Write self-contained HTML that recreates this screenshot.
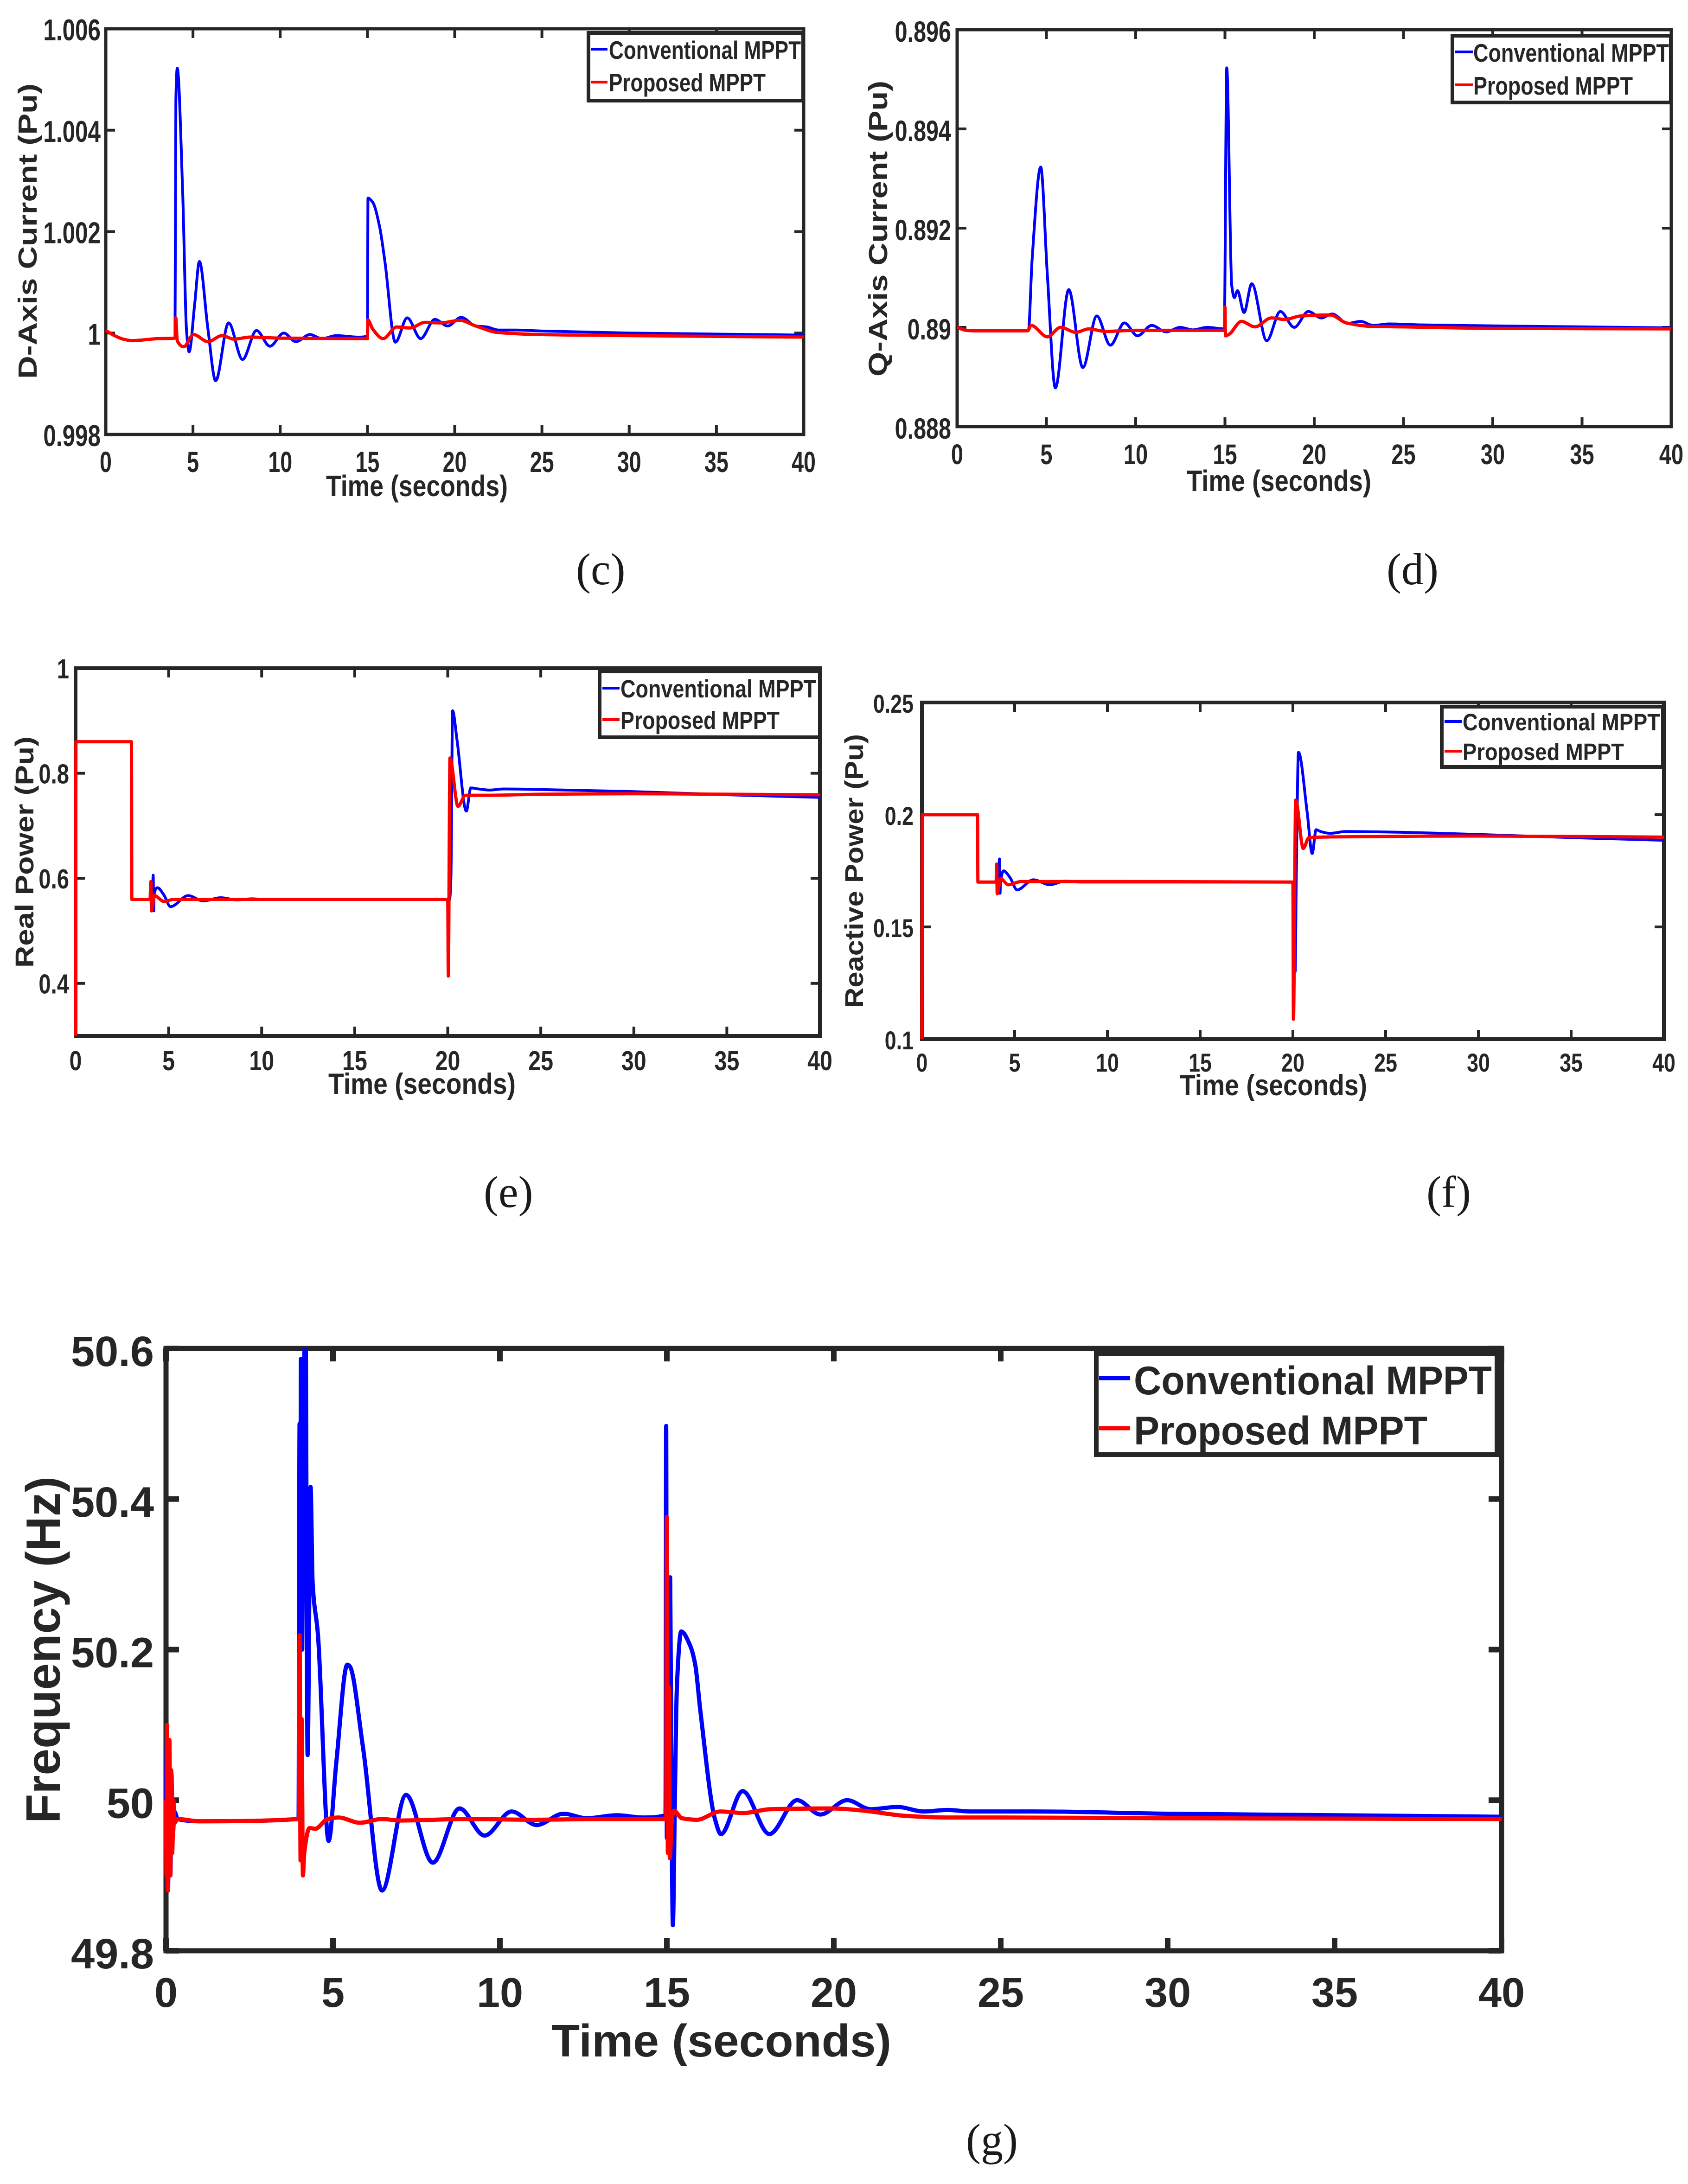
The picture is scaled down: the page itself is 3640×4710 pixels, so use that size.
<!DOCTYPE html>
<html lang="en">
<head>
<meta charset="utf-8">
<title>MPPT comparison charts</title>
<style>
html,body{margin:0;padding:0;background:#fff;}
svg{display:block;}
text{font-family:"Liberation Sans",sans-serif;font-weight:bold;fill:#262626;}
.cap{font-family:"Liberation Serif",serif;font-weight:normal;fill:#1a1a1a;font-size:96px;}
</style>
</head>
<body>
<svg id="figure" xmlns="http://www.w3.org/2000/svg" width="3640" height="4710" viewBox="0 0 3640 4710">
<rect width="3640" height="4710" fill="#fff"/>

<g id="panel-c">
  <g class="plot"></g>
  <text transform="translate(79,817) rotate(-90)" font-size="57" textLength="637" lengthAdjust="spacingAndGlyphs">D-Axis Current (Pu)</text>
  <text x="703" y="1070" font-size="64" textLength="392" lengthAdjust="spacingAndGlyphs">Time (seconds)</text>
  <g>
    <rect x="1269" y="71" width="463" height="146" fill="#fff" stroke="#262626" stroke-width="8"/>
    <line x1="1274" x2="1310" y1="106" y2="106" stroke="#0000ff" stroke-width="6"/>
    <line x1="1274" x2="1310" y1="177" y2="177" stroke="#ff0000" stroke-width="6"/>
    <text x="1313" y="127" font-size="55" textLength="414" lengthAdjust="spacingAndGlyphs">Conventional MPPT</text>
    <text x="1313" y="197" font-size="55" textLength="338" lengthAdjust="spacingAndGlyphs">Proposed MPPT</text>
  </g>
  <text class="cap" x="1242" y="1260">(c)</text>
</g>

<g id="panel-d">
  <g class="plot"></g>
  <text transform="translate(1913,812) rotate(-90)" font-size="57" textLength="638" lengthAdjust="spacingAndGlyphs">Q-Axis Current (Pu)</text>
  <text x="2559" y="1059" font-size="64" textLength="398" lengthAdjust="spacingAndGlyphs">Time (seconds)</text>
  <g>
    <rect x="3132" y="77" width="471" height="144" fill="#fff" stroke="#262626" stroke-width="8"/>
    <line x1="3138" x2="3176" y1="112" y2="112" stroke="#0000ff" stroke-width="6"/>
    <line x1="3138" x2="3176" y1="183" y2="183" stroke="#ff0000" stroke-width="6"/>
    <text x="3177" y="133" font-size="55" textLength="422" lengthAdjust="spacingAndGlyphs">Conventional MPPT</text>
    <text x="3177" y="204" font-size="55" textLength="344" lengthAdjust="spacingAndGlyphs">Proposed MPPT</text>
  </g>
  <text class="cap" x="2990" y="1260">(d)</text>
</g>

<g id="panel-e">
  <g class="plot"></g>
  <text transform="translate(72,2087) rotate(-90)" font-size="56" textLength="499" lengthAdjust="spacingAndGlyphs">Real Power (Pu)</text>
  <text x="708" y="2359" font-size="63" textLength="404" lengthAdjust="spacingAndGlyphs">Time (seconds)</text>
  <g>
    <rect x="1293" y="1448" width="475" height="142" fill="#fff" stroke="#262626" stroke-width="8"/>
    <line x1="1299" x2="1336" y1="1484" y2="1484" stroke="#0000ff" stroke-width="6"/>
    <line x1="1299" x2="1336" y1="1552" y2="1552" stroke="#ff0000" stroke-width="6"/>
    <text x="1338" y="1504" font-size="54" textLength="422" lengthAdjust="spacingAndGlyphs">Conventional MPPT</text>
    <text x="1338" y="1572" font-size="54" textLength="343" lengthAdjust="spacingAndGlyphs">Proposed MPPT</text>
  </g>
  <text class="cap" x="1043" y="2603">(e)</text>
</g>

<g id="panel-f">
  <g class="plot"></g>
  <text transform="translate(1861,2174) rotate(-90)" font-size="56" textLength="591" lengthAdjust="spacingAndGlyphs">Reactive Power (Pu)</text>
  <text x="2544" y="2362" font-size="63" textLength="404" lengthAdjust="spacingAndGlyphs">Time (seconds)</text>
  <g>
    <rect x="3109" y="1524" width="477" height="130" fill="#fff" stroke="#262626" stroke-width="8"/>
    <line x1="3115" x2="3153" y1="1556" y2="1556" stroke="#0000ff" stroke-width="6"/>
    <line x1="3115" x2="3153" y1="1620" y2="1620" stroke="#ff0000" stroke-width="6"/>
    <text x="3154" y="1575" font-size="51" textLength="426" lengthAdjust="spacingAndGlyphs">Conventional MPPT</text>
    <text x="3154" y="1639" font-size="51" textLength="348" lengthAdjust="spacingAndGlyphs">Proposed MPPT</text>
  </g>
  <text class="cap" x="3076" y="2603">(f)</text>
</g>

<g id="panel-g">
  <g class="plot"></g>
  <text transform="translate(129,3932) rotate(-90)" font-size="104" textLength="748" lengthAdjust="spacingAndGlyphs">Frequency (Hz)</text>
  <text x="1189" y="4435" font-size="98" textLength="733" lengthAdjust="spacingAndGlyphs">Time (seconds)</text>
  <g>
    <rect x="2364" y="2919" width="864" height="218" fill="#fff" stroke="#262626" stroke-width="10"/>
    <line x1="2370" x2="2437" y1="2972" y2="2972" stroke="#0000ff" stroke-width="9"/>
    <line x1="2370" x2="2437" y1="3080" y2="3080" stroke="#ff0000" stroke-width="9"/>
    <text x="2445" y="3007" font-size="86" textLength="772" lengthAdjust="spacingAndGlyphs">Conventional MPPT</text>
    <text x="2445" y="3115" font-size="86" textLength="633" lengthAdjust="spacingAndGlyphs">Proposed MPPT</text>
  </g>
  <text class="cap" x="2083" y="4647">(g)</text>
</g>
</svg>

<script>
// Shared x-axis ticks
const timeTicks = [0,5,10,15,20,25,30,35,40];

// (c) D-axis current
const cYTicks = [0.998,1,1.002,1.004,1.006];
const cYLabels = ["0.998","1","1.002","1.004","1.006"];
const cConvT = [0,0.5,1,1.5,3,3.97,4.02,4.1,4.41,4.63,4.78,5.1,5.37,5.85,6.3,7.04,7.84,8.64,9.41,10.2,10.9,11.7,12.4,13.2,14.5,15,15.03,15.3,15.7,16,16.6,17.28,18.05,18.86,19.6,20.37,21.2,21.85,22.5,23.5,25,30,35,40];
const cConvV = [1.00005,0.99995,0.99988,0.99985,0.99989,0.9999,1.0046,1.00522,1.00277,1.00005,0.99963,1.00058,1.00141,1.0001,0.99906,1.0002,0.99948,1.00005,0.99974,1,0.99983,0.99997,0.99989,0.99995,0.99992,0.99994,1.00266,1.00258,1.00209,1.00141,0.99982,1.0003,0.99989,1.00027,1.00014,1.00031,1.00014,1.00012,1.00006,1.00006,1.00004,1,0.99998,0.99996];
const cPropT = [0,0.5,1,1.5,3,3.98,4.01,4.1,4.47,5.03,5.86,6.67,7.35,8.27,10,15,15.02,15.3,15.9,16.67,17.44,18.3,19.2,20.3,21.2,22.5,25,30,40];
const cPropV = [1.00005,0.99995,0.99988,0.99985,0.99989,0.9999,1.0003,0.99985,0.99973,0.99997,0.99983,0.99995,0.99988,0.99992,0.9999,0.99989,1.00026,1.00008,0.99989,1.00012,1.0001,1.00021,1.0002,1.00025,1.00014,1.00001,0.99997,0.99995,0.99992];

// (d) Q-axis current
const dYTicks = [0.888,0.89,0.892,0.894,0.896];
const dYLabels = ["0.888","0.89","0.892","0.894","0.896"];
const dConvT = [0,0.5,1,3,3.99,4.2,4.68,5.05,5.5,6.25,7.04,7.82,8.58,9.37,10.1,10.9,11.7,12.5,13.2,14,14.96,15.1,15.38,15.53,15.7,16.07,16.5,17.34,18.1,18.88,19.67,20.4,21,21.87,22.6,23.3,24.2,26,30,35,40];
const dConvV = [0.89,0.88994,0.88993,0.88994,0.88994,0.89138,0.89323,0.89107,0.88878,0.89076,0.88919,0.89023,0.88964,0.89009,0.88983,0.89004,0.88991,0.89,0.88995,0.89,0.88997,0.89523,0.89084,0.8906,0.89074,0.8903,0.89088,0.88973,0.89032,0.89,0.89032,0.89019,0.89027,0.89008,0.89012,0.89004,0.89007,0.89005,0.89003,0.89001,0.88999];
const dPropT = [0,0.5,1,3,3.95,4.14,5.05,5.8,6.65,7.37,8.28,10,14.97,15,15.03,15.23,15.92,16.68,17.6,18.34,19.25,20.9,21.8,23.2,25,30,40];
const dPropV = [0.89,0.88994,0.88993,0.88993,0.88993,0.89004,0.88981,0.89,0.8899,0.88997,0.88992,0.88994,0.88994,0.89041,0.88983,0.88986,0.89012,0.89001,0.89019,0.89016,0.89023,0.89025,0.89009,0.89002,0.89001,0.88998,0.88997];

// (e) Real power
const eYTicks = [0.4,0.6,0.8,1];
const eYLabels = ["0.4","0.6","0.8","1"];
const eConvT = [0,0.02,3,3.02,4.12,4.17,4.2,4.22,4.4,4.75,5.1,6.05,6.86,7.8,8.65,9.5,10,20,20.1,20.17,20.26,20.5,21,21.24,21.67,22.25,23,25,30,35,40];
const eConvV = [0.3,0.86,0.86,0.56,0.56,0.606,0.538,0.57,0.582,0.568,0.546,0.567,0.557,0.563,0.559,0.561,0.56,0.56,0.56,0.6,0.919,0.863,0.728,0.772,0.77,0.768,0.77,0.769,0.765,0.759,0.754];
const ePropT = [0,0.02,3,3.02,4,4.05,4.08,4.23,4.75,5.3,20,20.03,20.12,20.55,20.95,22,25,30,35,40];
const ePropV = [0.3,0.86,0.86,0.56,0.56,0.594,0.538,0.567,0.556,0.56,0.56,0.414,0.829,0.737,0.758,0.758,0.76,0.761,0.76,0.759];

// (f) Reactive power
const fYTicks = [0.1,0.15,0.2,0.25];
const fYLabels = ["0.1","0.15","0.2","0.25"];
const fConvT = [0,0.02,3,3.02,4.12,4.18,4.21,4.24,4.4,4.75,5.13,6,6.9,7.7,8.5,20,20.12,20.18,20.3,20.77,21.04,21.25,21.5,22,22.85,25,30,35,40];
const fConvV = [0.1,0.2,0.2,0.17,0.17,0.1803,0.165,0.17,0.175,0.172,0.1665,0.171,0.1688,0.1704,0.17,0.17,0.13,0.17,0.2278,0.201,0.1827,0.1933,0.1925,0.1917,0.1925,0.1923,0.1912,0.1898,0.1886];
const fPropT = [0,0.02,3,3.02,4,4.03,4.06,4.24,4.66,5.34,20,20.03,20.15,20.56,20.86,22,30,40];
const fPropV = [0.1,0.2,0.2,0.17,0.17,0.178,0.1648,0.1715,0.1688,0.1702,0.17,0.1089,0.2065,0.185,0.1898,0.1901,0.1905,0.19];

// (g) Frequency
const gYTicks = [49.8,50,50.2,50.4,50.6];
const gYLabels = ["49.8","50","50.2","50.4","50.6"];
const gConvT = [0,0.03,0.06,0.1,0.13,0.17,0.2,0.25,0.35,1,3.97,4,4.02,4.04,4.08,4.14,4.18,4.24,4.33,4.39,4.55,4.87,5.1,5.43,5.5,5.9,6.47,7.19,7.99,8.79,9.54,10.35,11.1,11.9,12.6,13.5,14.3,14.96,14.98,15,15.04,15.1,15.14,15.18,15.24,15.3,15.43,15.7,15.85,16,16.44,16.62,17.27,18.07,18.9,19.6,20.4,21.1,21.9,22.7,23.4,24.1,26,30,35,40];
const gConvV = [50,50.1,49.88,50.08,49.9,50.02,49.95,49.985,49.975,49.972,49.975,50.5,50.2,50.586,50.2,50.59,50.62,50.06,50.416,50.29,50.22,49.946,50.05,50.18,50.178,50.07,49.88,50.007,49.917,49.989,49.953,49.985,49.967,49.982,49.976,49.98,49.977,49.98,50.497,49.95,50.2,50.296,50,49.834,50,50.15,50.224,50.205,50.18,50.12,49.975,49.955,50.012,49.955,50,49.981,50,49.988,49.991,49.985,49.987,49.985,49.985,49.982,49.98,49.978];
const gPropT = [0,0.015,0.03,0.045,0.06,0.08,0.1,0.115,0.13,0.15,0.17,0.185,0.2,0.22,0.25,0.35,1,3.98,4,4.03,4.06,4.1,4.14,4.3,4.47,4.84,5.16,5.81,6.46,7,9,11,13,14.98,15,15.03,15.06,15.09,15.14,15.21,15.45,15.9,16.6,17.3,18.1,20,20.9,22.2,23.4,25,30,40];
const gPropV = [50,49.9,50.1,49.89,49.88,50.08,50.08,49.9,49.9,50.04,50.03,49.93,49.95,50,49.97,49.975,49.972,49.975,50.219,49.92,50.108,49.9,49.93,49.963,49.962,49.975,49.977,49.97,49.975,49.973,49.975,49.974,49.975,49.975,50.376,49.93,50.15,49.923,49.97,49.986,49.976,49.974,49.985,49.983,49.988,49.989,49.986,49.979,49.977,49.977,49.976,49.975];

const SVG_NS = "http://www.w3.org/2000/svg";

const axesLayout = [
  {id:"panel-c", left:228, right:1733, top:62, bottom:937, yMin:0.998, yMax:1.006,
   yTicks:cYTicks, yLabels:cYLabels, convT:cConvT, convV:cConvV, propT:cPropT, propV:cPropV,
   frame:7, tickW:6, tickL:20, fontY:65, fontX:63, squeezeY:0.76, squeezeX:0.74, yRight:217, yDy:25, xBase:1018, convW:6, propW:7},
  {id:"panel-d", left:2064, right:3604, top:64, bottom:920, yMin:0.888, yMax:0.896,
   yTicks:dYTicks, yLabels:dYLabels, convT:dConvT, convV:dConvV, propT:dPropT, propV:dPropV,
   frame:7, tickW:6, tickL:20, fontY:63, fontX:61, squeezeY:0.77, squeezeX:0.77, yRight:2051, yDy:26, xBase:1001, convW:6, propW:7},
  {id:"panel-e", left:163, right:1768, top:1441, bottom:2234, yMin:0.3, yMax:1,
   yTicks:eYTicks, yLabels:eYLabels, convT:eConvT, convV:eConvV, propT:ePropT, propV:ePropV,
   frame:8, tickW:6, tickL:20, fontY:59, fontX:59, squeezeY:0.8, squeezeX:0.82, yRight:149, yDy:22, xBase:2308, convW:6, propW:7},
  {id:"panel-f", left:1988, right:3588, top:1515, bottom:2241, yMin:0.1, yMax:0.25,
   yTicks:fYTicks, yLabels:fYLabels, convT:fConvT, convV:fConvV, propT:fPropT, propV:fPropV,
   frame:8, tickW:6, tickL:20, fontY:56, fontX:56, squeezeY:0.8, squeezeX:0.8, yRight:1970, yDy:22, xBase:2311, convW:6, propW:7},
  {id:"panel-g", left:358, right:3238, top:2908, bottom:4207, yMin:49.8, yMax:50.6,
   yTicks:gYTicks, yLabels:gYLabels, convT:gConvT, convV:gConvV, propT:gPropT, propV:gPropV,
   frame:11, tickW:12, tickL:28, fontY:92, fontX:90, squeezeY:1, squeezeX:1, yRight:332, yDy:38, xBase:4328, convW:9, propW:9}
];

// Monotone cubic path so peaks stay exactly on the data points
function monotonePath(xs, ys) {
  const n = xs.length, m = [], t = [];
  for (let i = 0; i < n - 1; i++) m.push((ys[i+1]-ys[i])/(xs[i+1]-xs[i]));
  t.push(m[0]);
  for (let i = 1; i < n - 1; i++) {
    if (m[i-1]*m[i] <= 0) { t.push(0); continue; }
    const h0 = xs[i]-xs[i-1], h1 = xs[i+1]-xs[i];
    const a = (h0+2*h1)/(3*(h0+h1)), b = (2*h0+h1)/(3*(h0+h1));
    t.push(m[i-1]*m[i]/(a*m[i]+b*m[i-1]));
  }
  t.push(m[n-2]);
  let d = "M" + xs[0].toFixed(2) + " " + ys[0].toFixed(2);
  for (let i = 0; i < n - 1; i++) {
    const h = (xs[i+1]-xs[i])/3;
    d += "C" + (xs[i]+h).toFixed(2) + " " + (ys[i]+h*t[i]).toFixed(2) + " " +
         (xs[i+1]-h).toFixed(2) + " " + (ys[i+1]-h*t[i+1]).toFixed(2) + " " +
         xs[i+1].toFixed(2) + " " + ys[i+1].toFixed(2);
  }
  return d;
}

function make(tag, parent) {
  const el = document.createElementNS(SVG_NS, tag);
  parent.appendChild(el);
  return el;
}

axesLayout.forEach(function (p) {
  const plot = document.querySelector("#" + p.id + " .plot");
  const xScale = function (t) { return p.left + (t/40)*(p.right-p.left); };
  const yScale = function (v) { return p.bottom - ((v-p.yMin)/(p.yMax-p.yMin))*(p.bottom-p.top); };

  // clip
  const clip = make("clipPath", plot);
  clip.setAttribute("id", "clip-" + p.id);
  const clipRect = make("rect", clip);
  clipRect.setAttribute("x", p.left - p.frame);
  clipRect.setAttribute("y", p.top);
  clipRect.setAttribute("width", p.right - p.left + 2*p.frame);
  clipRect.setAttribute("height", p.bottom - p.top);

  // frame
  const frame = make("rect", plot);
  
  
  frame.setAttribute("x", p.left);
  frame.setAttribute("y", p.top);
  frame.setAttribute("width", p.right - p.left);
  frame.setAttribute("height", p.bottom - p.top);
  frame.setAttribute("fill", "none");
  frame.setAttribute("stroke", "#262626");
  frame.setAttribute("stroke-width", p.frame);

  // x ticks, both edges
  timeTicks.forEach(function (t) {
    [[p.bottom, p.bottom - p.tickL], [p.top, p.top + p.tickL]].forEach(function (e) {
      const tick = make("line", plot);
      
      
      tick.setAttribute("x1", xScale(t));
      tick.setAttribute("x2", xScale(t));
      tick.setAttribute("y1", e[0]);
      tick.setAttribute("y2", e[1]);
      tick.setAttribute("stroke", "#262626");
      tick.setAttribute("stroke-width", p.tickW);
    });
    const label = make("text", plot);
    
    
    label.setAttribute("transform", "translate(" + xScale(t) + "," + p.xBase + ") scale(" + p.squeezeX + ",1)");
    label.setAttribute("text-anchor", "middle");
    label.setAttribute("font-size", p.fontX);
    label.textContent = String(t);
  });

  // y ticks, both edges
  p.yTicks.forEach(function (v, i) {
    [[p.left, p.left + p.tickL], [p.right, p.right - p.tickL]].forEach(function (e) {
      const tick = make("line", plot);
      
      
      tick.setAttribute("x1", e[0]);
      tick.setAttribute("x2", e[1]);
      tick.setAttribute("y1", yScale(v));
      tick.setAttribute("y2", yScale(v));
      tick.setAttribute("stroke", "#262626");
      tick.setAttribute("stroke-width", p.tickW);
    });
    const label = make("text", plot);
    
    
    label.setAttribute("transform", "translate(" + p.yRight + "," + (yScale(v) + p.yDy) + ") scale(" + p.squeezeY + ",1)");
    label.setAttribute("text-anchor", "end");
    label.setAttribute("font-size", p.fontY);
    label.textContent = p.yLabels[i];
  });

  // series
  const conv = make("path", plot);
  
  
  conv.setAttribute("d", monotonePath(p.convT.map(xScale), p.convV.map(yScale)));
  conv.setAttribute("fill", "none");
  conv.setAttribute("stroke", "#0000ff");
  conv.setAttribute("stroke-width", p.convW);
  conv.setAttribute("stroke-linejoin", "round");
  conv.setAttribute("clip-path", "url(#clip-" + p.id + ")");

  const prop = make("path", plot);
  
  
  prop.setAttribute("d", monotonePath(p.propT.map(xScale), p.propV.map(yScale)));
  prop.setAttribute("fill", "none");
  prop.setAttribute("stroke", "#ff0000");
  prop.setAttribute("stroke-width", p.propW);
  prop.setAttribute("stroke-linejoin", "round");
  prop.setAttribute("clip-path", "url(#clip-" + p.id + ")");
});
</script>
</body>
</html>
